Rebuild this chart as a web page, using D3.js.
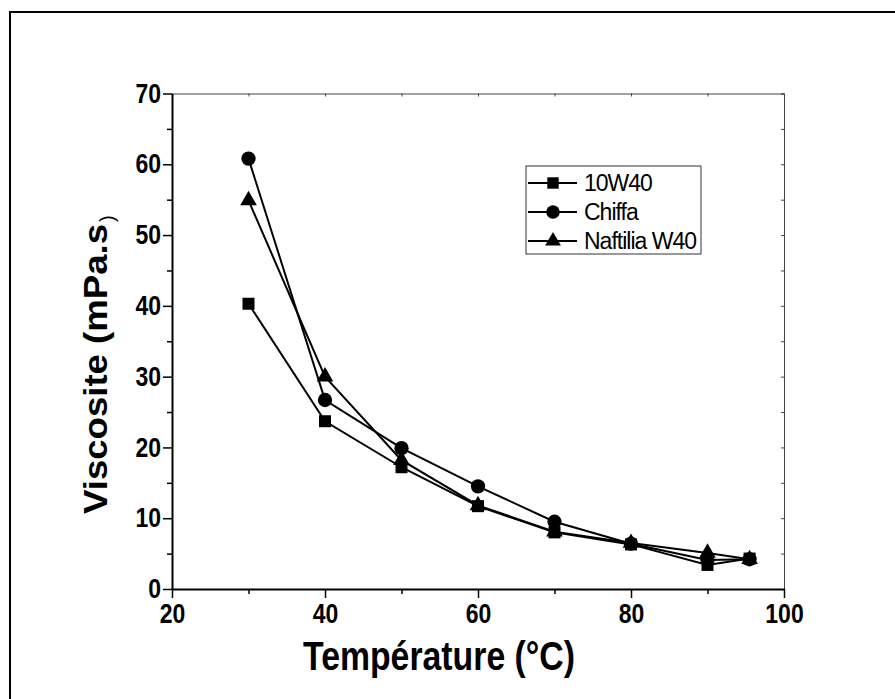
<!DOCTYPE html>
<html>
<head>
<meta charset="utf-8">
<script src="https://cdn.jsdelivr.net/npm/d3@7"></script>
<style>
  html, body { margin: 0; padding: 0; background: #fff; }
  svg { display: block; }
  text { font-family: "Liberation Sans", Arial, Helvetica, sans-serif; fill: #000; }
</style>
</head>
<body>
<svg id="chart" width="895" height="699"></svg>
<script>
// Viscosity of three engine oils versus temperature
const temperatures = [30, 40, 50, 60, 70, 80, 90, 95.5];
const visc10W40    = [40.3, 23.7, 17.2, 11.7, 8.0, 6.3, 3.4, 4.3];
const viscChiffa   = [60.8, 26.7, 19.9, 14.5, 9.5, 6.4, 4.1, 4.2];
const viscNaftilia = [54.9, 30.0, 18.2, 11.8, 8.1, 6.5, 5.1, 4.2];

const seriesNames  = ["10W40", "Chiffa", "Naftilia W40"];
const seriesValues = [visc10W40, viscChiffa, viscNaftilia];
const seriesSymbols = [d3.symbolSquare, d3.symbolCircle, d3.symbolTriangle];
const symbolSizes   = [144, 160, 120];

const xTicks = [20, 40, 60, 80, 100];
const yTicks = [0, 10, 20, 30, 40, 50, 60, 70];
const xMinorTicks = [30, 50, 70, 90];
const yMinorTicks = [5, 15, 25, 35, 45, 55, 65];

const svg = d3.select("#chart");

// outer frame
svg.append("rect")
  .attr("x", 10).attr("y", 12)
  .attr("width", 900).attr("height", 700)
  .attr("fill", "none").attr("stroke", "#000").attr("stroke-width", 2);

const plot = { left: 172, top: 93.5, right: 784, bottom: 589 };

const x = d3.scaleLinear().domain([20, 100]).range([plot.left, plot.right]);
const y = d3.scaleLinear().domain([0, 70]).range([plot.bottom, plot.top]);

// top and right frame axes (thin, inward ticks)
const topAxis = d3.axisBottom(x).tickValues(d3.range(20, 101, 10)).tickSize(3).tickFormat("");
svg.append("g").attr("transform", `translate(0,${plot.top})`).call(topAxis)
  .call(g => g.selectAll("path, line").attr("stroke", "#444").attr("stroke-width", 1));
const rightAxis = d3.axisLeft(y).tickValues(d3.range(0, 71, 5)).tickSize(3).tickFormat("");
svg.append("g").attr("transform", `translate(${plot.right},0)`).call(rightAxis)
  .call(g => g.selectAll("path, line").attr("stroke", "#444").attr("stroke-width", 1));

// bottom axis
const xAxis = d3.axisBottom(x).tickValues(xTicks).tickSize(9).tickSizeOuter(0).tickPadding(6);
const gx = svg.append("g").attr("transform", `translate(0,${plot.bottom})`).call(xAxis);
gx.select(".domain").attr("stroke", "#000").attr("stroke-width", 1.8);
gx.selectAll(".tick line").attr("stroke", "#000").attr("stroke-width", 1.5);
gx.selectAll(".tick text")
  .attr("font-size", 27).attr("font-weight", "bold")
  .attr("textLength", d => String(d).length * 12.8)
  .attr("lengthAdjust", "spacingAndGlyphs");
svg.append("g").attr("transform", `translate(0,${plot.bottom})`)
  .call(d3.axisBottom(x).tickValues(xMinorTicks).tickSize(5).tickFormat(""))
  .call(g => g.select(".domain").remove())
  .call(g => g.selectAll("line").attr("stroke", "#000").attr("stroke-width", 1.5));

// left axis
const yAxis = d3.axisLeft(y).tickValues(yTicks).tickSize(9).tickSizeOuter(0).tickPadding(2);
const gy = svg.append("g").attr("transform", `translate(${plot.left},0)`).call(yAxis);
gy.select(".domain").attr("stroke", "#000").attr("stroke-width", 2);
gy.selectAll(".tick line").attr("stroke", "#000").attr("stroke-width", 1.5);
gy.selectAll(".tick text")
  .attr("font-size", 27).attr("font-weight", "bold")
  .attr("textLength", d => String(d).length * 12.8)
  .attr("lengthAdjust", "spacingAndGlyphs");
svg.append("g").attr("transform", `translate(${plot.left},0)`)
  .call(d3.axisLeft(y).tickValues(yMinorTicks).tickSize(5).tickFormat(""))
  .call(g => g.select(".domain").remove())
  .call(g => g.selectAll("line").attr("stroke", "#000").attr("stroke-width", 1.5));

// axis titles
svg.append("text")
  .attr("x", 303).attr("y", 670)
  .attr("font-size", 41).attr("font-weight", "bold")
  .attr("textLength", 272).attr("lengthAdjust", "spacingAndGlyphs")
  .text("Température (°C)");

const yTitle = svg.append("text")
  .attr("transform", "translate(107,514) rotate(-90)")
  .attr("font-size", 34).attr("font-weight", "bold");
yTitle.append("tspan")
  .attr("textLength", 290).attr("lengthAdjust", "spacingAndGlyphs")
  .text("Viscosite (mPa.s");
yTitle.append("tspan")
  .attr("font-size", 20).attr("font-weight", "normal").attr("dy", 7).attr("dx", 2)
  .text(")");

// series lines and markers
const line = d3.line().x(d => x(d[0])).y(d => y(d[1]));
seriesValues.forEach((vals, i) => {
  const pts = temperatures.map((t, k) => [t, vals[k]]);
  svg.append("path")
    .attr("d", line(pts))
    .attr("fill", "none").attr("stroke", "#000").attr("stroke-width", 2);
  svg.append("g").selectAll("path")
    .data(pts).join("path")
    .attr("transform", d => `translate(${x(d[0])},${y(d[1])})`)
    .attr("d", d3.symbol().type(seriesSymbols[i]).size(symbolSizes[i]))
    .attr("fill", "#000");
});

// legend
const legend = svg.append("g");
legend.append("rect")
  .attr("x", 526).attr("y", 166).attr("width", 175).attr("height", 88)
  .attr("fill", "#fff").attr("stroke", "#333").attr("stroke-width", 1);
const rowY = [183, 212, 241];
seriesNames.forEach((name, i) => {
  const g = legend.append("g").attr("transform", `translate(0,${rowY[i]})`);
  g.append("line").attr("x1", 528).attr("x2", 577).attr("y1", 0).attr("y2", 0)
    .attr("stroke", "#000").attr("stroke-width", 2);
  g.append("path").attr("transform", "translate(553,0)")
    .attr("d", d3.symbol().type(seriesSymbols[i]).size(symbolSizes[i] * 0.9))
    .attr("fill", "#000");
  g.append("text").attr("x", 584).attr("y", 8)
    .attr("font-size", 23).attr("letter-spacing", -1)
    .text(name);
});
</script>
</body>
</html>
